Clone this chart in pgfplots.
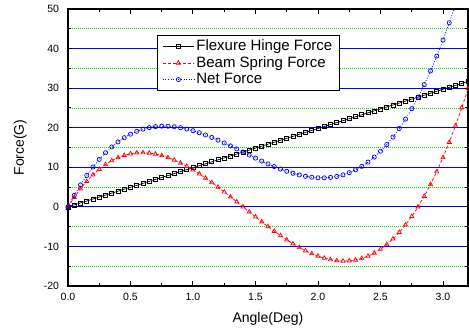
\documentclass[border=0pt]{standalone}
\usepackage{fontspec}
\setmainfont{Liberation Sans}
\usepackage{pgfplots}
\pgfplotsset{compat=1.18}
\pgfplotsset{legend image code/.code={\draw[mark repeat=2,mark phase=2,#1] plot coordinates {(0cm,0cm) (0.55cm,0cm) (1.1cm,0cm)};}}
\definecolor{gridblue}{RGB}{0,0,255}
\definecolor{gridgreen}{RGB}{0,225,0}
\begin{document}
\begin{tikzpicture}
\begin{axis}[
  at={(0,0)}, anchor=south west,
  scale only axis, width=400pt, height=277pt,
  xmin=0, xmax=3.2, ymin=-20, ymax=50,
  xtick={0,0.5,1.0,1.5,2.0,2.5,3.0},
  ytick={-20,-10,0,10,20,30,40,50},
  minor x tick num=1, minor y tick num=1,
  ymajorgrids, yminorgrids,
  major grid style={gridblue, line width=0.8pt},
  minor grid style={gridgreen, line width=0.8pt, dash pattern=on 1pt off 1pt},
  axis line style={line width=1.5pt},
  every tick/.style={black, line width=1pt},
  major tick length=4.5pt, minor tick length=3pt,
  tick align=inside,
  /pgf/number format/assume math mode=true,
  xticklabel style={/pgf/number format/fixed, /pgf/number format/fixed zerofill, /pgf/number format/precision=1, yshift=-3.5pt},
  tick label style={font=\fontsize{10.5}{12}\selectfont},
  yticklabel style={xshift=-5.5pt},
  xlabel={Angle(Deg)}, ylabel={Force(G)},
  label style={font=\fontsize{14}{17}\selectfont},
  xlabel style={at={(axis description cs:0.5,-0.13)}, anchor=base},
  ylabel style={at={(axis description cs:-0.11,0.5)}, anchor=base},
  legend style={at={(rel axis cs:0.2225,0.906)}, anchor=north west, draw=black, line width=0.8pt,
    font=\fontsize{15}{18}\selectfont, inner xsep=5pt, inner ysep=2.5pt, row sep=0.5pt},
  legend cell align=left,
]
\addplot[black, line width=0.7pt, mark=square, mark size=2pt, mark options={solid, line width=0.7pt}] coordinates {
(0.00,0) (0.05,0.495) (0.10,0.99) (0.15,1.485) (0.20,1.98) (0.25,2.475) (0.30,2.97) (0.35,3.465)
(0.40,3.96) (0.45,4.455) (0.50,4.95) (0.55,5.445) (0.60,5.94) (0.65,6.435) (0.70,6.93) (0.75,7.425)
(0.80,7.92) (0.85,8.415) (0.90,8.91) (0.95,9.405) (1.00,9.9) (1.05,10.395) (1.10,10.89) (1.15,11.385)
(1.20,11.88) (1.25,12.375) (1.30,12.87) (1.35,13.365) (1.40,13.86) (1.45,14.355) (1.50,14.85) (1.55,15.345)
(1.60,15.84) (1.65,16.335) (1.70,16.83) (1.75,17.325) (1.80,17.82) (1.85,18.315) (1.90,18.81) (1.95,19.305)
(2.00,19.8) (2.05,20.295) (2.10,20.79) (2.15,21.285) (2.20,21.78) (2.25,22.275) (2.30,22.77) (2.35,23.265)
(2.40,23.76) (2.45,24.255) (2.50,24.75) (2.55,25.245) (2.60,25.74) (2.65,26.235) (2.70,26.73) (2.75,27.225)
(2.80,27.72) (2.85,28.215) (2.90,28.71) (2.95,29.205) (3.00,29.7) (3.05,30.195) (3.10,30.69) (3.15,31.185)
(3.20,31.68)
};
\addlegendentry{Flexure Hinge Force}
\addplot[red, line width=0.7pt, dash pattern=on 3pt off 2pt, mark=triangle, mark size=2.4pt, mark options={solid, line width=0.7pt}] coordinates {
(0.00,0) (0.05,2.408) (0.10,4.552) (0.15,6.445) (0.20,8.093) (0.25,9.509) (0.30,10.700) (0.35,11.678)
(0.40,12.451) (0.45,13.030) (0.50,13.424) (0.55,13.643) (0.60,13.696) (0.65,13.594) (0.70,13.346) (0.75,12.962)
(0.80,12.451) (0.85,11.824) (0.90,11.089) (0.95,10.258) (1.00,9.338) (1.05,8.341) (1.10,7.276) (1.15,6.153)
(1.20,4.980) (1.25,3.769) (1.30,2.529) (1.35,1.269) (1.40,0) (1.45,-1.269) (1.50,-2.529) (1.55,-3.769)
(1.60,-4.980) (1.65,-6.153) (1.70,-7.276) (1.75,-8.341) (1.80,-9.338) (1.85,-10.258) (1.90,-11.089) (1.95,-11.824)
(2.00,-12.451) (2.05,-12.962) (2.10,-13.346) (2.15,-13.594) (2.20,-13.696) (2.25,-13.643) (2.30,-13.424) (2.35,-13.030)
(2.40,-12.451) (2.45,-11.678) (2.50,-10.700) (2.55,-9.509) (2.60,-8.093) (2.65,-6.445) (2.70,-4.552) (2.75,-2.408)
(2.80,0) (2.85,2.680) (2.90,5.642) (2.95,8.896) (3.00,12.451) (3.05,16.318) (3.10,20.506) (3.15,25.024)
(3.20,29.883)
};
\addlegendentry{Beam Spring Force}
\addplot[blue, line width=0.7pt, dash pattern=on 1pt off 1.6pt, mark=o, mark size=2.1pt, mark options={solid, line width=0.7pt}] coordinates {
(0.00,0) (0.05,2.903) (0.10,5.542) (0.15,7.930) (0.20,10.073) (0.25,11.984) (0.30,13.670) (0.35,15.143)
(0.40,16.411) (0.45,17.485) (0.50,18.374) (0.55,19.088) (0.60,19.636) (0.65,20.029) (0.70,20.276) (0.75,20.387)
(0.80,20.371) (0.85,20.239) (0.90,19.999) (0.95,19.663) (1.00,19.238) (1.05,18.736) (1.10,18.166) (1.15,17.538)
(1.20,16.860) (1.25,16.144) (1.30,15.399) (1.35,14.634) (1.40,13.86) (1.45,13.086) (1.50,12.321) (1.55,11.576)
(1.60,10.860) (1.65,10.182) (1.70,9.554) (1.75,8.984) (1.80,8.482) (1.85,8.057) (1.90,7.721) (1.95,7.481)
(2.00,7.349) (2.05,7.333) (2.10,7.444) (2.15,7.691) (2.20,8.084) (2.25,8.632) (2.30,9.346) (2.35,10.235)
(2.40,11.309) (2.45,12.577) (2.50,14.050) (2.55,15.736) (2.60,17.647) (2.65,19.790) (2.70,22.178) (2.75,24.817)
(2.80,27.72) (2.85,30.895) (2.90,34.352) (2.95,38.101) (3.00,42.151) (3.05,46.513) (3.10,51.196)
};
\addlegendentry{Net Force}
\end{axis}
\pgfresetboundingbox
\path (-68pt,-45pt) rectangle (401pt,286pt);
\end{tikzpicture}
\end{document}
